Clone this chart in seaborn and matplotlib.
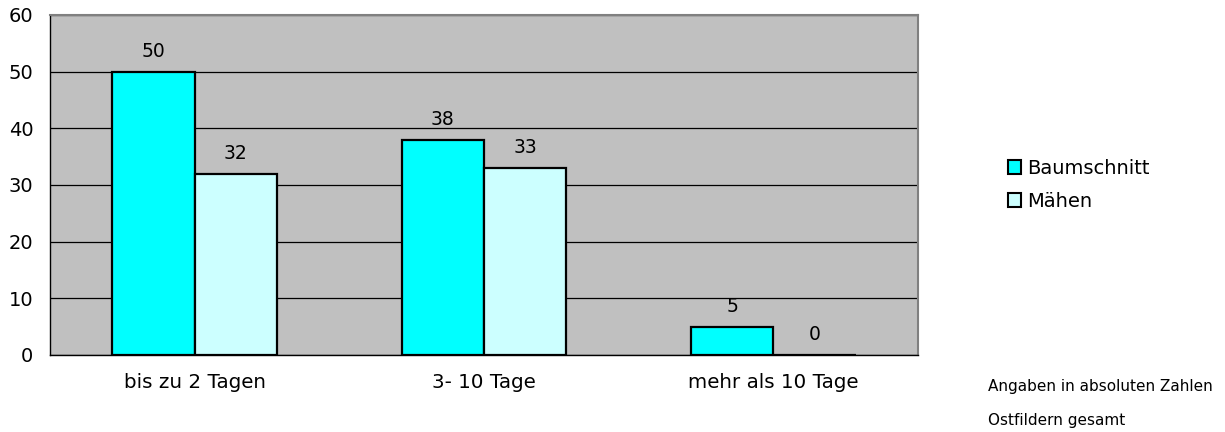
import matplotlib
matplotlib.use("Agg")
import matplotlib.pyplot as plt
import seaborn as sns
import pandas as pd
from matplotlib.patches import Patch

categories = ["bis zu 2 Tagen", "3- 10 Tage", "mehr als 10 Tage"]
baumschnitt = [50, 38, 5]
maehen = [32, 33, 0]
series_names = ["Baumschnitt", "Mähen"]
colors = ["#00FFFF", "#CCFFFF"]

df = pd.DataFrame({
    "cat": categories * 2,
    "value": baumschnitt + maehen,
    "series": [series_names[0]] * 3 + [series_names[1]] * 3,
})

sns.set_style("white")
plt.rcParams["font.family"] = ["DejaVu Sans"]
plt.rcParams["text.color"] = "black"
plt.rcParams["xtick.color"] = "black"
plt.rcParams["ytick.color"] = "black"

fig = plt.figure(figsize=(12.25, 4.32), dpi=100)
ax = fig.add_axes([50 / 1225, 77 / 432, 868 / 1225, 340 / 432])
ax.set_facecolor("#C0C0C0")

sns.barplot(data=df, x="cat", y="value", hue="series", palette=colors,
            saturation=1, width=0.57, edgecolor="black", linewidth=1.6,
            ax=ax, legend=False, zorder=3)

for cont in ax.containers:
    ax.bar_label(cont, padding=8, fontsize=13.5, color="black")

ax.set_ylim(0, 60)
ax.set_xlim(-0.5, 2.5)
ax.set_yticks(range(0, 61, 10))
ax.yaxis.grid(True, color="black", linewidth=0.9, zorder=0)
ax.set_axisbelow(True)
ax.set_xlabel("")
ax.set_ylabel("")

ax.set_xticks([0, 1, 2])
ax.set_xticklabels(categories)
ax.set_xticks([-0.5, 0.5, 1.5, 2.5], minor=True)
ax.tick_params(axis="x", which="major", length=0, pad=13, labelsize=14.3)
ax.tick_params(axis="x", which="minor", length=6, width=0.8, color="#808080")
ax.tick_params(axis="y", length=6, width=0.8, labelsize=14, pad=6)

for s in ["left", "bottom"]:
    ax.spines[s].set_color("black")
    ax.spines[s].set_linewidth(1.0)
for s in ["top", "right"]:
    ax.spines[s].set_color("#808080")
    ax.spines[s].set_linewidth(1.5)

handles = [Patch(facecolor=c, edgecolor="black", linewidth=1.5) for c in colors]
fig.legend(handles, series_names, loc="center left",
           bbox_to_anchor=(1000 / 1225, 1 - 185 / 432), frameon=False,
           fontsize=14, handlelength=0.7, handleheight=0.7,
           handletextpad=0.3, labelspacing=0.72, borderaxespad=0)

fig.text(988 / 1225, 1 - 386 / 432, "Angaben in absoluten Zahlen",
         fontsize=11, va="center", ha="left")
fig.text(988 / 1225, 1 - 421 / 432, "Ostfildern gesamt",
         fontsize=11, va="center", ha="left")

fig.savefig("out.png", dpi=100)
